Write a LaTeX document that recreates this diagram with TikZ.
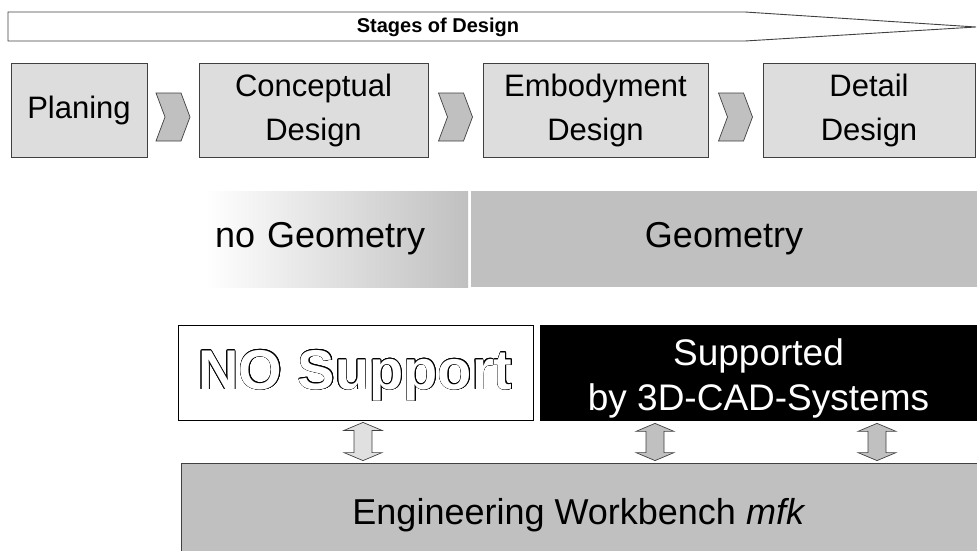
\documentclass[tikz,border=0pt]{standalone}
\usepackage{fontspec}
\setmainfont{Liberation Sans}
\usepackage{xcolor}
\usepackage{contour}
\usetikzlibrary{calc}

\definecolor{stagegray}{HTML}{DDDDDD}
\definecolor{midgray}{HTML}{C0C0C0}
\definecolor{lightarr}{HTML}{E0E0E0}
\definecolor{edgegray}{HTML}{404040}

\newcommand{\bannerfont}{\fontsize{20}{22}\selectfont\bfseries}
\newcommand{\stagefont}{\fontsize{31}{44}\selectfont}
\newcommand{\geofont}{\fontsize{36}{40}\selectfont}
\newcommand{\nsfont}{\fontsize{56}{60}\selectfont\bfseries}
\newcommand{\supfont}{\fontsize{37}{45}\selectfont}
\newcommand{\wbfont}{\fontsize{36}{40}\selectfont}
\contourlength{0.6pt}

\tikzstyle{stage} = [draw=edgegray, fill=stagegray, line width=0.8pt, minimum height=94pt, align=center, font=\stagefont, inner sep=0pt]
\tikzstyle{chev} = [draw=edgegray, fill=midgray, line width=0.7pt, line join=miter]
\tikzstyle{dblarr} = [draw=edgegray, line width=0.7pt]

% chevron between two stages
\newcommand{\chevron}[2]{%
  \coordinate (cc) at ($(#1.east)!0.5!(#2.west)+(0,7)$);
  \filldraw[chev] ($(cc)+(-17,-24)$) -- ($(cc)+(8,-24)$) -- ($(cc)+(17,0)$) -- ($(cc)+(8,24)$) -- ($(cc)+(-17,24)$) -- ($(cc)+(-8,0)$) -- cycle;}

% fat double arrow, #1 fill, #2 top, #3 bottom
\newcommand{\updown}[3]{%
  \filldraw[dblarr, fill=#1] ($(#2)+(0,2)$) -- ($(#2)+(19,10)$) -- ($(#2)+(9,10)$) -- ($(#3)+(9,-10)$) -- ($(#3)+(19,-10)$) -- ($(#3)+(0,-2)$) -- ($(#3)+(-19,-10)$) -- ($(#3)+(-9,-10)$) -- ($(#2)+(-9,10)$) -- ($(#2)+(-19,10)$) -- cycle;}

\begin{document}
\begin{tikzpicture}[x=1pt,y=-1pt]
	\useasboundingbox (0,0) rectangle (977,551);
	% banner
	\draw[draw=edgegray, line width=0.9pt] (8,12) -- (745,12) -- (976,27) -- (745,41) -- (8,41) -- cycle;
	\node[font=\bannerfont] (banner) at (438,27) {Stages of Design};

	% stages
	\node[stage, minimum width=136pt] (plan) at (79,110) {Planing};
	\node[stage, minimum width=229pt] (concept) at (313.5,110) {Conceptual\\Design};
	\node[stage, minimum width=225pt] (embody) at (595.5,110) {Embodyment\\Design};
	\node[stage, minimum width=212pt] (detail) at (869,110) {Detail\\Design};
	\foreach \a/\b in {plan/concept, concept/embody, embody/detail}
		\chevron{\a}{\b};

	% geometry
	\node[fill=midgray, minimum width=506pt, minimum height=96pt, font=\geofont] (geo) at (724,239) {Geometry};
	\node[left color=white, right color=midgray, minimum width=263pt, minimum height=96pt, inner xsep=10pt, text width=243pt, align=left, font=\geofont] (nogeo) at (336.5,239) {no Geometry};

	% support
	\node[draw, fill=white, line width=0.8pt, minimum width=355pt, minimum height=95pt, font=\nsfont] (nosup) at (355.5,372.5) {\rule{0pt}{46pt}\contour{black}{\textcolor{white}{NO Support}}};
	\node[fill=black, text=white, minimum width=437pt, minimum height=96pt, align=center, font=\supfont] (sup) at (758.5,373) {\rule{0pt}{37pt}Supported\\by 3D-CAD-Systems};

	% workbench
	\node[draw=edgegray, fill=midgray, line width=0.8pt, minimum width=796pt, minimum height=104pt, font=\wbfont] (wb) at (579,515) {Engineering Workbench \textit{mfk}};

	\coordinate (x1) at (363,0);
	\coordinate (x2) at (655,0);
	\coordinate (x3) at (877,0);
	\updown{lightarr}{x1 |- nosup.south}{x1 |- wb.north}
	\updown{midgray}{x2 |- sup.south}{x2 |- wb.north}
	\updown{midgray}{x3 |- sup.south}{x3 |- wb.north}
\end{tikzpicture}
\end{document}
